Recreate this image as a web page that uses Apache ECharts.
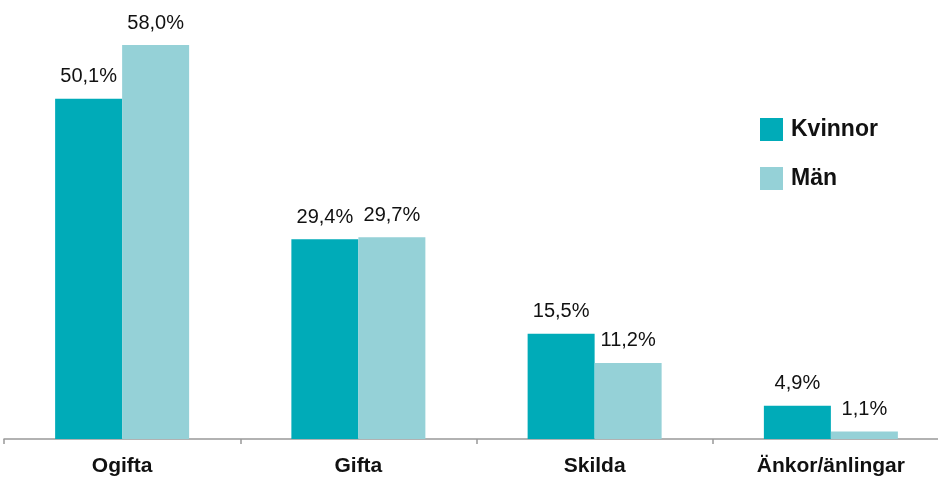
<!DOCTYPE html>
<html>
<head>
<meta charset="utf-8">
<script src="https://cdn.jsdelivr.net/npm/echarts@6/dist/echarts.min.js"></script>
<style>html,body{margin:0;padding:0;background:#fff;overflow:hidden}#c{width:949px;height:477px}</style>
</head>
<body>
<div id="c"></div>
<script>
const categories = ['Ogifta', 'Gifta', 'Skilda', 'Änkor/änlingar'];
const seriesNames = ['Kvinnor', 'Män'];
const kvinnor = [50.1, 29.4, 15.5, 4.9];
const man = [58.0, 29.7, 11.2, 1.1];

const chart = echarts.init(document.getElementById('c'));
const fmt = p => p.value.toFixed(1).replace('.', ',') + '%';
const labelStyle = {
  show: true, position: 'top', distance: 12, formatter: fmt,
  fontFamily: 'Liberation Sans, Arial, sans-serif', fontSize: 20, color: '#111'
};
chart.setOption({
  animation: false,
  backgroundColor: '#fff',
  grid: { left: 4, right: 0, top: 45, bottom: 37 },
  legend: {
    orient: 'vertical', left: 755, top: 113, itemWidth: 23, itemHeight: 23, itemGap: 26,
    icon: 'rect',
    textStyle: { fontFamily: 'Liberation Sans, Arial, sans-serif', fontSize: 23, fontWeight: 'bold', color: '#111', padding: [0, 0, 0, 3] },
    data: seriesNames
  },
  xAxis: {
    type: 'category', data: categories,
    axisLine: { lineStyle: { color: '#999', width: 1.5 } },
    axisTick: { show: true, length: 5, lineStyle: { color: '#999', width: 1.5 } },
    axisLabel: { fontFamily: 'Liberation Sans, Arial, sans-serif', fontSize: 21, fontWeight: 'bold', color: '#111', margin: 17 }
  },
  yAxis: { type: 'value', min: 0, max: 58, show: false, splitLine: { show: false } },
  series: [
    { name: seriesNames[0], type: 'bar', data: kvinnor, barWidth: 67, barGap: '0%', itemStyle: { color: '#00ABB8' }, label: labelStyle },
    { name: seriesNames[1], type: 'bar', data: man, barWidth: 67, barGap: '0%', itemStyle: { color: '#95D1D7' }, label: labelStyle }
  ]
});
</script>
</body>
</html>
